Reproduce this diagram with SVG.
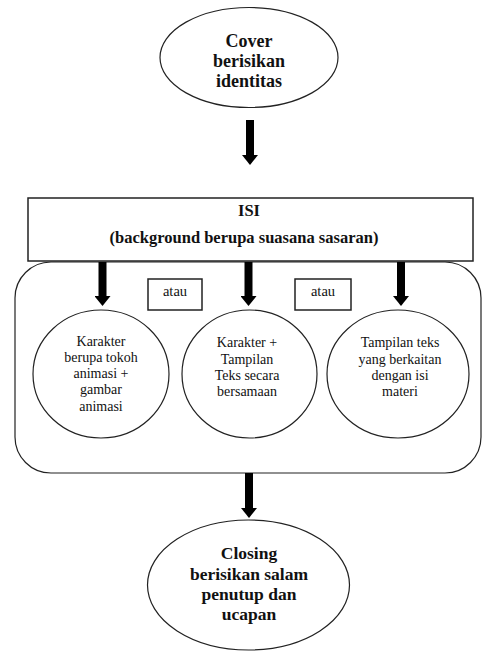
<svg xmlns="http://www.w3.org/2000/svg" width="483" height="653" viewBox="0 0 483 653">
<style>
.shape{fill:#fff;stroke:#222;stroke-width:1.2}
.box{fill:#fff;stroke:#222;stroke-width:1.5}
.bold{font-weight:bold;fill:#111;text-anchor:middle}
.reg{fill:#111;text-anchor:middle}
.arrow{stroke:#000;stroke-width:8;marker-end:url(#head)}
</style>
<defs>
<marker id="head" viewBox="0 0 10 16" refX="0" refY="8" markerWidth="10" markerHeight="16" markerUnits="userSpaceOnUse" orient="auto">
<path d="M0,0 L10,8 L0,16 z" fill="#000"/>
</marker>
</defs>
<rect x="0" y="0" width="483" height="653" fill="#fff"/>
<g id="container">
<rect class="shape" x="15" y="262" width="466" height="211" rx="36" ry="36"/>
</g>
<g font-family="'Liberation Serif', 'DejaVu Serif', serif">
<g id="cover">
<ellipse class="shape" cx="249" cy="57.5" rx="89" ry="50"/>
<text class="bold" font-size="18" x="249" y="47">Cover</text>
<text class="bold" font-size="18" x="249" y="67">berisikan</text>
<text class="bold" font-size="18" x="249" y="87">identitas</text>
</g>
<g id="isi">
<rect class="box" x="28" y="198" width="445" height="63"/>
<text class="bold" font-size="16.5" x="249" y="216">ISI</text>
<text class="bold" font-size="16.5" x="244" y="243">(background berupa suasana sasaran)</text>
</g>
<g id="atau1">
<rect class="box" x="148" y="279" width="54" height="31"/>
<text class="reg" font-size="14.5" x="175" y="296">atau</text>
</g>
<g id="atau2">
<rect class="box" x="295" y="279" width="56" height="31"/>
<text class="reg" font-size="14.5" x="323" y="296">atau</text>
</g>
<g id="opt1" font-size="14">
<ellipse class="shape" cx="101" cy="374" rx="68" ry="64"/>
<text class="reg" x="101" y="346">Karakter</text>
<text class="reg" x="101" y="362">berupa tokoh</text>
<text class="reg" x="101" y="378">animasi +</text>
<text class="reg" x="101" y="394">gambar</text>
<text class="reg" x="101" y="411">animasi</text>
</g>
<g id="opt2" font-size="14">
<ellipse class="shape" cx="249.5" cy="374" rx="67.5" ry="64"/>
<text class="reg" x="247" y="347">Karakter +</text>
<text class="reg" x="247" y="364">Tampilan</text>
<text class="reg" x="247" y="380">Teks secara</text>
<text class="reg" x="247" y="396">bersamaan</text>
</g>
<g id="opt3" font-size="14">
<ellipse class="shape" cx="398" cy="374" rx="71" ry="64"/>
<text class="reg" x="400" y="347">Tampilan teks</text>
<text class="reg" x="400" y="364">yang berkaitan</text>
<text class="reg" x="400" y="380">dengan isi</text>
<text class="reg" x="400" y="396">materi</text>
</g>
<g id="closing">
<ellipse class="shape" cx="248.5" cy="585" rx="101" ry="65"/>
<text class="bold" font-size="17.5" x="249" y="559">Closing</text>
<text class="bold" font-size="17.5" x="249" y="580">berisikan salam</text>
<text class="bold" font-size="17.5" x="249" y="600">penutup dan</text>
<text class="bold" font-size="17.5" x="249" y="620">ucapan</text>
</g>
</g>
<g id="connectors">
<line class="arrow" x1="250" y1="120" x2="250" y2="155"/>
<line class="arrow" x1="102.5" y1="262" x2="102.5" y2="296"/>
<line class="arrow" x1="248.5" y1="262" x2="248.5" y2="296"/>
<line class="arrow" x1="401" y1="262" x2="401" y2="296"/>
<line class="arrow" x1="249" y1="473" x2="249" y2="508"/>
</g>
</svg>
